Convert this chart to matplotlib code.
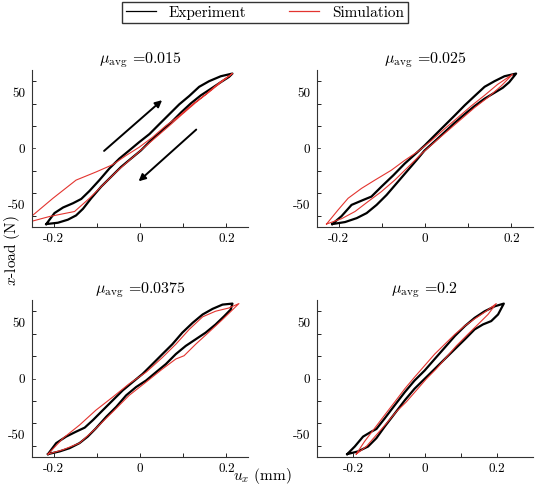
import numpy as np
import matplotlib
matplotlib.use('Agg')
import matplotlib.pyplot as plt
from matplotlib.lines import Line2D

plt.rcParams['font.family'] = 'serif'
plt.rcParams['font.serif'] = ['cmr10']
plt.rcParams['mathtext.fontset'] = 'cm'
plt.rcParams['axes.unicode_minus'] = False

# values: closed loops (upper branch, then lower branch back)
titles = ['0.015', '0.025', '0.0375', '0.2']

exp1_x = [-0.217, -0.198, -0.178, -0.155, -0.136, -0.117, -0.094, -0.071, -0.048, -0.025, -0.002, 0.022, 0.045,
          0.068, 0.091, 0.114, 0.137, 0.160, 0.187, 0.214,
          0.206, 0.187, 0.164, 0.141, 0.118, 0.095, 0.072, 0.048, 0.025, 0.002, -0.021, -0.044, -0.067, -0.090,
          -0.113, -0.132, -0.148, -0.167, -0.190, -0.217]
exp1_y = [-67.4, -57.6, -52.6, -48.8, -45.0, -37.9, -28.2, -17.9, -9.1, -1.8, 5.6, 12.9, 21.8, 30.6, 39.4, 46.8,
          55.0, 60.0, 64.4, 66.8,
          63.8, 59.1, 53.2, 47.4, 40.3, 32.1, 23.2, 15.0, 7.1, -1.8, -9.1, -16.5, -25.3, -34.1, -44.4, -53.8,
          -59.7, -63.5, -66.2, -67.4]
sim1_x = [-0.273, -0.2515, -0.2015, -0.148, -0.1015, -0.063, -0.032, -0.0015, 0.029, 0.060, 0.091, 0.1215,
          0.152, 0.183, 0.214,
          0.191, 0.160, 0.129, 0.098, 0.068, 0.037, 0.006, -0.025, -0.055, -0.086, -0.117, -0.1515, -0.209,
          -0.2515, -0.273]
sim1_y = [-68, -60.6, -44.4, -28.2, -20.9, -14.4, -6.2, 1.2, 10.0, 20.3, 29.1, 39.4, 48.2, 58.5, 66.8,
          60.0, 50.3, 40.9, 30.6, 20.3, 10.0, -0.3, -10.6, -20.9, -32.6, -44.4, -56.2, -60.6, -65, -68]

exp2_x = [-0.2146, -0.1931, -0.170, -0.143, -0.124, -0.101, -0.073, -0.047, -0.019, -0.001, 0.022, 0.045, 0.068,
          0.092, 0.115, 0.138, 0.161, 0.184, 0.211,
          0.195, 0.180, 0.161, 0.138, 0.115, 0.092, 0.068, 0.045, 0.022, -0.001, -0.020, -0.043, -0.066, -0.089,
          -0.112, -0.135, -0.158, -0.185, -0.2146]
exp2_y = [-67.4, -60.3, -50.3, -45.9, -42.9, -34.1, -23.8, -13.5, -3.8, 2.6, 11.5, 20.3, 29.1, 38.5, 46.8, 55.0,
          60.0, 64.4, 66.8,
          59.1, 54.1, 49.7, 44.4, 37.9, 30.6, 22.6, 14.4, 6.2, -1.8, -10.6, -20.9, -31.2, -41.5, -50.3, -57.6,
          -62.1, -65.6, -67.4]
sim2_x = [-0.228, -0.201, -0.178, -0.147, -0.116, -0.078, -0.047, -0.016, 0.015, 0.045, 0.076, 0.107, 0.138,
          0.168, 0.203,
          0.176, 0.145, 0.115, 0.084, 0.053, 0.022, -0.008, -0.039, -0.070, -0.101, -0.132, -0.162, -0.193, -0.228]
sim2_y = [-67.4, -54.7, -44.4, -35.6, -28.2, -19.4, -10.6, -2.6, 7.1, 17.4, 27.6, 37.9, 47.4, 57.1, 66.2,
          55.6, 45.3, 36.5, 26.2, 15.9, 5.6, -4.7, -16.5, -28.2, -38.5, -47.4, -56.2, -62.6, -67.4]

exp3_x = [-0.213, -0.194, -0.171, -0.148, -0.128, -0.109, -0.086, -0.063, -0.040, -0.017, 0.006, 0.029, 0.052,
          0.075, 0.098, 0.122, 0.145, 0.168, 0.191, 0.214,
          0.210, 0.195, 0.175, 0.152, 0.129, 0.106, 0.083, 0.060, 0.037, 0.014, -0.009, -0.032, -0.055, -0.078,
          -0.102, -0.121, -0.140, -0.163, -0.186, -0.213]
exp3_y = [-67.4, -57.6, -51.8, -47.4, -43.8, -37.1, -28.2, -19.4, -10.6, -3.2, 4.1, 12.9, 21.8, 30.6, 40.9, 49.7,
          57.1, 62.1, 65.9, 66.8,
          61.5, 55.6, 48.2, 40.9, 35.0, 29.1, 21.8, 12.9, 5.6, -1.8, -7.6, -15.0, -25.3, -34.1, -44.4, -51.8,
          -57.6, -62.1, -65.0, -67.4]
sim3_x = [-0.213, -0.178, -0.140, -0.102, -0.063, -0.025, 0.014, 0.052, 0.083, 0.114, 0.145, 0.175, 0.206, 0.229,
          0.191, 0.160, 0.129, 0.102, 0.083, 0.052, 0.014, -0.025, -0.063, -0.102, -0.140, -0.178, -0.213]
sim3_y = [-67.4, -53.2, -41.5, -28.2, -16.5, -4.7, 5.6, 18.8, 30.6, 43.8, 55.0, 60.0, 62.9, 66.8,
          52.6, 41.5, 30.6, 20.3, 17.4, 8.5, -3.2, -15.0, -29.7, -44.4, -57.6, -63.5, -67.4]

exp4_x = [-0.216, -0.195, -0.172, -0.149, -0.135, -0.112, -0.084, -0.056, -0.029, -0.001, 0.027, 0.055, 0.083,
          0.111, 0.138, 0.166, 0.194, 0.219,
          0.203, 0.184, 0.161, 0.138, 0.111, 0.083, 0.055, 0.027, -0.001, -0.029, -0.056, -0.084, -0.112, -0.135,
          -0.158, -0.186, -0.216]
exp4_y = [-67.4, -60.6, -51.8, -47.4, -45.0, -35.6, -23.8, -12.1, -1.8, 7.1, 17.4, 27.6, 37.9, 46.8, 54.1, 60.0,
          64.4, 66.8,
          57.1, 51.2, 48.2, 43.8, 35.0, 26.2, 17.4, 8.5, -0.3, -9.1, -19.4, -31.2, -42.9, -53.2, -60.6, -65.0,
          -67.4]
sim4_x = [-0.191, -0.168, -0.140, -0.112, -0.084, -0.056, -0.029, -0.001, 0.027, 0.055, 0.083, 0.110, 0.138,
          0.170, 0.198,
          0.175, 0.147, 0.119, 0.087, 0.059, 0.031, 0.004, -0.024, -0.052, -0.080, -0.107, -0.135, -0.163, -0.191]
sim4_y = [-67.4, -56.2, -44.4, -32.6, -20.9, -9.1, 1.2, 11.5, 21.8, 30.6, 39.4, 46.8, 53.2, 60.0, 66.8,
          57.1, 48.2, 39.4, 29.1, 18.8, 8.5, -0.3, -10.6, -20.9, -29.7, -40.0, -50.3, -60.6, -67.4]

xlims = [(-0.25, 0.25), (-0.25, 0.25), (-0.25, 0.25), (-0.3, 0.3)]
exp_x = [exp1_x, exp2_x, exp3_x, exp4_x]
exp_y = [exp1_y, exp2_y, exp3_y, exp4_y]
sim_x = [sim1_x, sim2_x, sim3_x, sim4_x]
sim_y = [sim1_y, sim2_y, sim3_y, sim4_y]

fig = plt.figure(figsize=(5.37, 4.91), dpi=100)
lefts = [0.0596, 0.5903, 0.0596, 0.5903]
bottoms = [0.5377, 0.5377, 0.0692, 0.0692]
red = '#e3342f'

axes = []
for i in range(4):
    ax = fig.add_axes([lefts[i], bottoms[i], 0.4022, 0.3198])
    ax.plot(exp_x[i], exp_y[i], color='black', lw=1.6)
    ax.plot(sim_x[i], sim_y[i], color=red, lw=0.8)
    ax.set_xlim(xlims[i])
    ax.set_ylim(-70, 70)
    ax.set_title(r'$\mu_{\rm avg}$ =' + titles[i], fontsize=11.5, pad=5)
    ax.spines['top'].set_visible(False)
    ax.spines['right'].set_visible(False)
    for s in ['left', 'bottom']:
        ax.spines[s].set_color('#333333')
        ax.spines[s].set_linewidth(0.8)
    ax.set_xticks([-0.2, 0, 0.2])
    ax.set_xticklabels(['-0.2', '0', '0.2'])
    ax.set_xticks([-0.1, 0.1], minor=True)
    ax.set_yticks([-50, 0, 50])
    ax.set_yticklabels(['-50', '0', '50'])
    ax.set_yticks([-60, -40, -20, 20, 40, 60], minor=True)
    ax.tick_params(axis='x', which='both', direction='in', length=3, width=0.6, labelsize=9.5, pad=4)
    ax.tick_params(axis='y', which='minor', direction='in', length=3, width=0.6)
    ax.tick_params(axis='y', which='major', direction='in', length=0, labelsize=9.5, pad=5)
    # small tick at y = 0
    ax.axhline(0, xmin=0, xmax=0.014, color='#333333', lw=0.6)
    axes.append(ax)

# loading / unloading arrows
axes[0].annotate('', xy=(0.056, 44.7), xytext=(-0.088, -3.8),
                 arrowprops=dict(arrowstyle='-|>', color='black', lw=1.4, mutation_scale=10))
axes[0].annotate('', xy=(-0.008, -30.9), xytext=(0.135, 18.5),
                 arrowprops=dict(arrowstyle='-|>', color='black', lw=1.4, mutation_scale=10))

handles = [Line2D([], [], color='black', lw=0.9), Line2D([], [], color=red, lw=0.9)]
fig.legend(handles, ['Experiment', 'Simulation'], loc='upper center', bbox_to_anchor=(0.493, 1.012),
           ncol=2, fontsize=11, frameon=True, fancybox=False, edgecolor='#333333', framealpha=1,
           handlelength=2.0, columnspacing=2.8, borderpad=0.25, handletextpad=0.8)

fig.text(0.488, 0.03, r'$u_x$ (mm)', ha='center', va='center', fontsize=11)
fig.text(0.022, 0.49, r'$x$-load (N)', ha='center', va='center', rotation=90, fontsize=11)

fig.savefig('out.png', dpi=100)
